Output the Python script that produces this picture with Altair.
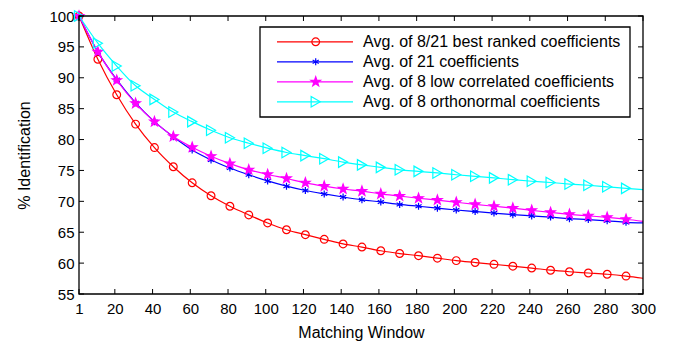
import altair as alt
import pandas as pd
import numpy as np

x_vals = [1, 11, 21, 31, 41, 51, 61, 71, 81, 91, 101, 111, 121, 131, 141, 151,
          161, 171, 181, 191, 201, 211, 221, 231, 241, 251, 261, 271, 281, 291, 300]
best_ranked = [100, 93.0, 87.25, 82.5, 78.7, 75.6, 73.0, 70.9, 69.2, 67.8, 66.5, 65.4,
               64.6, 63.85, 63.1, 62.6, 62.0, 61.55, 61.2, 60.8, 60.4, 60.1, 59.8, 59.5,
               59.2, 58.85, 58.6, 58.4, 58.2, 57.9, 57.55]
all21 = [100, 94.2, 89.7, 85.95, 82.9, 80.45, 78.3, 76.7, 75.4, 74.3, 73.3, 72.45,
         71.75, 71.2, 70.7, 70.25, 69.9, 69.5, 69.2, 68.9, 68.6, 68.35, 68.1, 67.85,
         67.65, 67.45, 67.2, 67.05, 66.85, 66.6, 66.5]
low_corr = [100, 94.2, 89.6, 85.85, 82.9, 80.5, 78.75, 77.3, 76.1, 75.1, 74.35, 73.7,
            73.0, 72.45, 72.0, 71.65, 71.2, 70.85, 70.5, 70.2, 69.85, 69.5, 69.2, 68.9,
            68.55, 68.2, 67.9, 67.65, 67.4, 67.1, 66.75]
orthonormal = [100, 95.6, 91.9, 88.7, 86.5, 84.45, 82.9, 81.5, 80.3, 79.4, 78.6, 77.9,
               77.4, 76.9, 76.35, 75.9, 75.5, 75.1, 74.85, 74.6, 74.3, 74.05, 73.8, 73.5,
               73.25, 73.05, 72.8, 72.6, 72.35, 72.1, 71.9]

labels = ["Avg. of 8/21 best ranked coefficients",
          "Avg. of 21 coefficients",
          "Avg. of 8 low correlated coefficients",
          "Avg. of 8 orthonormal coefficients"]
colors = ["#FF0000", "#0000FF", "#FF00FF", "#00FFFF"]
x_ticks = [1, 20, 40, 60, 80, 100, 120, 140, 160, 180, 200, 220, 240, 260, 280, 300]
y_ticks = [55, 60, 65, 70, 75, 80, 85, 90, 95, 100]

series = [best_ranked, all21, low_corr, orthonormal]

W, H = 564, 278
FONT = "Liberation Sans"
FS = 15
TFS = 16
LFS = 16

# marker shapes
asterisk = "M0,-1L0,1M-0.866,-0.5L0.866,0.5M-0.866,0.5L0.866,-0.5"
pts = []
for k in range(10):
    r = 1.0 if k % 2 == 0 else 0.40
    a = np.deg2rad(-90 + 36 * k)
    pts.append((r * np.cos(a), r * np.sin(a)))
pentagram = "M" + "L".join(f"{px:.3f},{py:.3f}" for px, py in pts) + "Z"

markers = [
    dict(shape="circle", size=60, filled=False),
    dict(shape=asterisk, size=50, filled=False),
    dict(shape=pentagram, size=100, filled=True),
    dict(shape="triangle-right", size=110, filled=False),
]

xscale = alt.Scale(domain=[1, 300], nice=False, zero=False)
yscale = alt.Scale(domain=[55, 100], nice=False, zero=False)

axis_style = dict(labelFont=FONT, titleFont=FONT, labelFontSize=FS, titleFontSize=TFS,
                  labelColor="black", titleColor="black", titleFontWeight="normal",
                  grid=False, tickSize=0, domain=False)
xaxis = alt.Axis(values=x_ticks, labelPadding=7, title="Matching Window",
                 titlePadding=8, labelFlush=False, **axis_style)
yaxis = alt.Axis(values=y_ticks, labelPadding=5, title="% Identification",
                 titlePadding=16, **axis_style)


def X(f):
    return alt.X(f, scale=xscale, axis=xaxis)


def Y(f):
    return alt.Y(f, scale=yscale, axis=yaxis)


LW = 1.2
layers = []
for i, (vals, lab, col) in enumerate(zip(series, labels, colors)):
    df = pd.DataFrame({"x": x_vals, "y": vals, "series": lab})
    base = alt.Chart(df)
    layers.append(base.mark_line(color=col, strokeWidth=LW, interpolate="monotone").encode(
        x=X("x:Q"), y=Y("y:Q")))
    m = markers[i]
    pt = base.transform_filter(alt.datum.x <= 291).mark_point(
        shape=m["shape"], size=m["size"], filled=m["filled"], color=col,
        stroke=col, strokeWidth=LW, opacity=1,
        **({"fill": col} if m["filled"] else {})
    ).encode(x=X("x:Q"), y=Y("y:Q"))
    layers.append(pt)

# inward ticks (MATLAB box style)
xt = alt.Chart(pd.DataFrame({"t": x_ticks}))
yt = alt.Chart(pd.DataFrame({"t": y_ticks}))
tick_len = 5
layers.append(xt.mark_rule(color="black", strokeWidth=1).encode(
    x=X("t:Q"), y=alt.value(H), y2=alt.value(H - tick_len)))
layers.append(xt.mark_rule(color="black", strokeWidth=1).encode(
    x=X("t:Q"), y=alt.value(0), y2=alt.value(tick_len)))
layers.append(yt.mark_rule(color="black", strokeWidth=1).encode(
    y=Y("t:Q"), x=alt.value(0), x2=alt.value(tick_len)))
layers.append(yt.mark_rule(color="black", strokeWidth=1).encode(
    y=Y("t:Q"), x=alt.value(W), x2=alt.value(W - tick_len)))

one = alt.Chart(pd.DataFrame({"a": [0]}))
# plot box
layers.append(one.mark_rect(fillOpacity=0, stroke="black", strokeWidth=1.3).encode(
    x=alt.value(0), x2=alt.value(W), y=alt.value(0), y2=alt.value(H)))

# legend
layers.append(one.mark_rect(fill="white", stroke="black", strokeWidth=1.3).encode(
    x=alt.value(181), x2=alt.value(551), y=alt.value(11), y2=alt.value(101)))
row0, dy = 25.8, 20
for i, (lab, col) in enumerate(zip(labels, colors)):
    ry = row0 + i * dy
    layers.append(one.mark_rule(color=col, strokeWidth=LW).encode(
        x=alt.value(198), x2=alt.value(274), y=alt.value(ry)))
    m = markers[i]
    layers.append(one.mark_point(
        shape=m["shape"], size=m["size"], filled=m["filled"], color=col,
        stroke=col, strokeWidth=LW, opacity=1,
        **({"fill": col} if m["filled"] else {})
    ).encode(x=alt.value(236.7), y=alt.value(ry)))
    layers.append(one.mark_text(text=lab, align="left", baseline="middle", font=FONT,
                                fontSize=LFS, color="black").encode(
        x=alt.value(284), y=alt.value(ry)))

chart = alt.layer(*layers).properties(
    width=W, height=H,
    autosize=alt.AutoSizeParams(type="none"),
    padding={"left": 71, "top": 8, "right": 28, "bottom": 47},
    background="white",
).configure_view(stroke=None)

chart.save("out.html", embed_options={"renderer": "svg", "actions": False})
